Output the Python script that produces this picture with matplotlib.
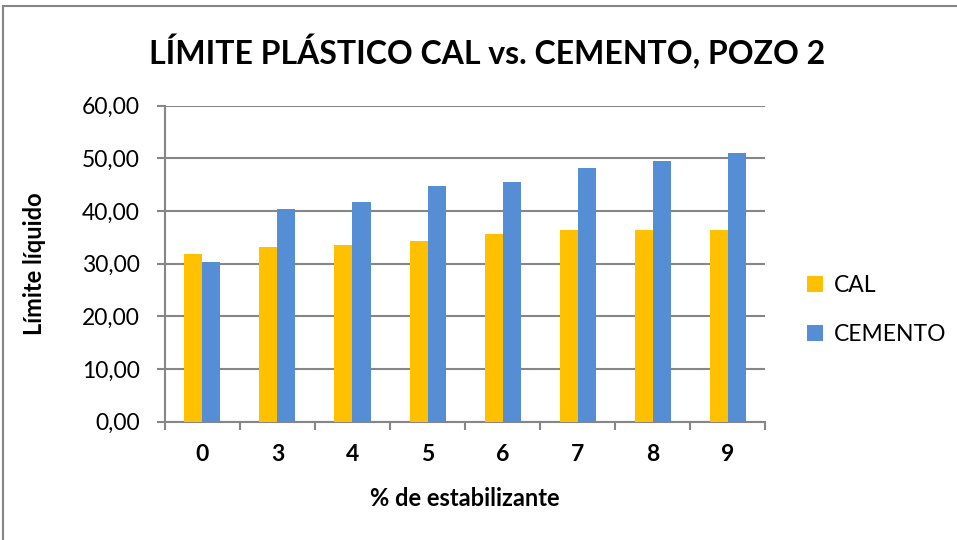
import numpy as np
import matplotlib.pyplot as plt
from matplotlib.lines import Line2D

# datos
categorias = ['0', '3', '4', '5', '6', '7', '8', '9']
cal = [31.8, 33.2, 33.6, 34.3, 35.6, 36.4, 36.4, 36.5]
cemento = [30.3, 40.4, 41.8, 44.8, 45.5, 48.2, 49.5, 51.0]
yticks = [0, 10, 20, 30, 40, 50, 60]

plt.rcParams['font.family'] = ['Lato', 'DejaVu Sans']

fig = plt.figure(figsize=(9.57, 5.4), dpi=100)
ax = fig.add_axes([0.1724, 0.219, 0.627, 0.585])

x = np.arange(len(categorias))
w = 0.24
ax.bar(x - w/2, cal, w, color='#FFC000', label='CAL', zorder=3)
ax.bar(x + w/2, cemento, w, color='#558ED5', label='CEMENTO', zorder=3)

ax.set_xlim(-0.5, len(categorias) - 0.5)
ax.set_ylim(0, 60)
ax.set_yticks(yticks)
ax.set_yticklabels([f'{v:.2f}'.replace('.', ',') for v in yticks], fontsize=16.5)
ax.yaxis.grid(True, color='#868686', lw=1.5, zorder=0)

# ticks del eje x entre categorias
ax.set_xticks(x)
ax.set_xticklabels(categorias, fontsize=16.5, fontweight='bold')
ax.tick_params(axis='x', length=0, pad=16)
ax.set_xticks(np.arange(-0.5, len(categorias)), minor=True)
ax.tick_params(axis='x', which='minor', length=6, color='#868686', width=1.5)
ax.tick_params(axis='y', length=6, color='#868686', width=1.5, pad=12)

for s in ['top', 'right']:
    ax.spines[s].set_visible(False)
for s in ['left', 'bottom']:
    ax.spines[s].set_color('#868686')
    ax.spines[s].set_linewidth(1.5)

ax.set_xlabel('% de estabilizante', fontsize=17, fontweight='bold', labelpad=16)
ax.set_ylabel('Límite líquido', fontsize=17, fontweight='bold', labelpad=26)

fig.text(0.509, 0.905, 'LÍMITE PLÁSTICO CAL vs. CEMENTO, POZO 2',
         ha='center', va='center', fontsize=23, fontweight='bold')

ax.legend(loc='center left', bbox_to_anchor=(1.035, 0.354), frameon=False,
          fontsize=16.5, handlelength=0.7, handleheight=0.7,
          labelspacing=1.25, handletextpad=0.5)

# borde del grafico (solo izquierda y arriba se ven)
fig.lines.append(Line2D([0.0035, 0.0035], [0, 0.989], transform=fig.transFigure,
                        color='#868686', lw=1.5))
fig.lines.append(Line2D([0.0035, 1], [0.989, 0.989], transform=fig.transFigure,
                        color='#868686', lw=1.5))

fig.savefig('out.png', dpi=100)
